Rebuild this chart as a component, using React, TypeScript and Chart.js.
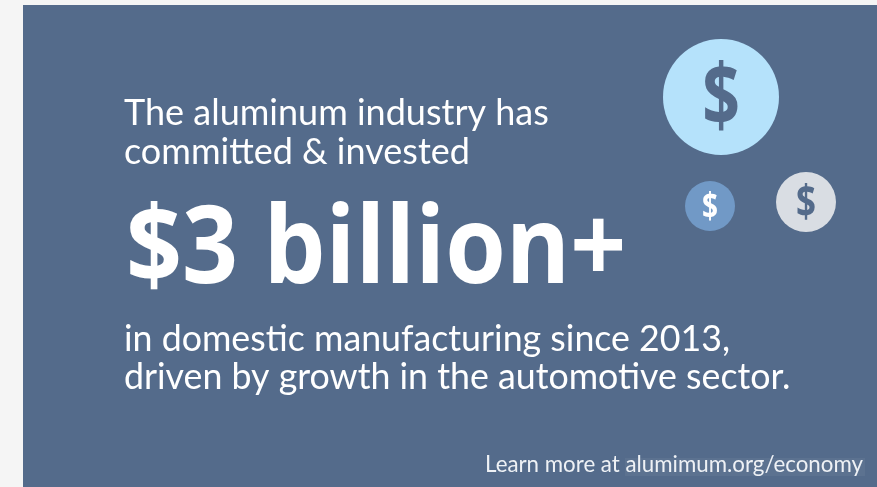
import React, { useEffect, useRef } from "react";
import { Chart, registerables } from "chart.js";

Chart.register(...registerables);

const bubbleX = [721, 710, 806];
const bubbleY = [97, 206, 202];
const bubbleR = [58, 25, 30];
const bubbleColors = ["#B5E2FB", "#7199C6", "#D9DDE3"];
const glyphColors = ["#546B8B", "#FFFFFF", "#546B8B"];
const glyphSizes = [66, 28, 35];
const glyph = "$";

const PANEL = "#546B8B";
const PAGE = "#F5F5F5";

const headline = ["The aluminum industry has", "committed & invested"];
const amount = "$3 billion+";
const detail = ["in domestic manufacturing since 2013,", "driven by growth in the automotive sector."];
const learn = "Learn more at alumimum.org/economy";

const FONT = "Lato, 'Noto Sans', sans-serif";
const GLYPH_FONT = "'Open Sans', sans-serif";
const AMOUNT_STRETCH = 1.09;
const GLYPH_STRETCH = 1.3;

// A bubble chart insets its plot area by the largest radius, so the axes run
// over that inset range to keep one unit equal to one pixel.
const inset = Math.max(...bubbleR);

const artwork = {
  id: "artwork",
  beforeDraw(chart: any) {
    const { ctx, width, height } = chart;
    ctx.save();
    ctx.fillStyle = PAGE;
    ctx.fillRect(0, 0, width, height);
    ctx.fillStyle = PANEL;
    ctx.fillRect(23, 5, width - 23, height - 5);
    ctx.fillStyle = "rgba(255,255,255,0.05)";
    ctx.fillRect(625, 458, 240, 18);
    ctx.restore();
  },
  afterDraw(chart: any) {
    const { ctx } = chart;
    const xs = chart.scales.x;
    const ys = chart.scales.y;
    ctx.save();
    ctx.textBaseline = "alphabetic";
    ctx.textAlign = "left";
    ctx.fillStyle = "#FFFFFF";
    ctx.font = `400 36px ${FONT}`;
    ctx.fillText(headline[0], 124, 125);
    ctx.fillText(headline[1], 124, 164);

    ctx.save();
    ctx.translate(126, 283);
    ctx.scale(1, AMOUNT_STRETCH);
    ctx.font = `700 98px ${GLYPH_FONT}`;
    ctx.fillText(amount, 0, 0);
    ctx.restore();

    ctx.font = `400 35.75px ${FONT}`;
    ctx.fillText(detail[0], 124, 351);
    ctx.fillText(detail[1], 124, 389);
    ctx.font = `400 22.3px ${FONT}`;
    ctx.fillStyle = "#EEF1F5";
    ctx.textAlign = "right";
    ctx.fillText(learn, 863, 472);
    ctx.textAlign = "center";
    bubbleX.forEach((x, i) => {
      const size = glyphSizes[i];
      ctx.save();
      ctx.translate(xs.getPixelForValue(x), ys.getPixelForValue(bubbleY[i]) + 0.44 * size);
      ctx.scale(1, GLYPH_STRETCH);
      ctx.fillStyle = glyphColors[i];
      ctx.font = `700 ${size}px ${GLYPH_FONT}`;
      ctx.fillText(glyph, 0, 0);
      ctx.restore();
    });
    ctx.restore();
  },
};

export default function App() {
  const ref = useRef<HTMLCanvasElement>(null);
  useEffect(() => {
    document.body.style.margin = "0";
    const chart = new Chart(ref.current as HTMLCanvasElement, {
      type: "bubble",
      data: {
        datasets: [
          {
            data: bubbleX.map((x, i) => ({ x, y: bubbleY[i], r: bubbleR[i] })),
            backgroundColor: bubbleColors,
            borderWidth: 0,
            clip: false,
          },
        ],
      },
      options: {
        animation: false,
        responsive: false,
        devicePixelRatio: 1,
        layout: { padding: 0 },
        plugins: { legend: { display: false }, tooltip: { enabled: false } },
        scales: {
          x: { type: "linear", display: false, min: inset, max: 877 - inset },
          y: { type: "linear", display: false, min: inset, max: 487 - inset, reverse: true },
        },
      },
      plugins: [artwork],
    } as any);
    return () => chart.destroy();
  }, []);
  return <canvas ref={ref} width={877} height={487} style={{ display: "block", width: 877, height: 487 }} />;
}
